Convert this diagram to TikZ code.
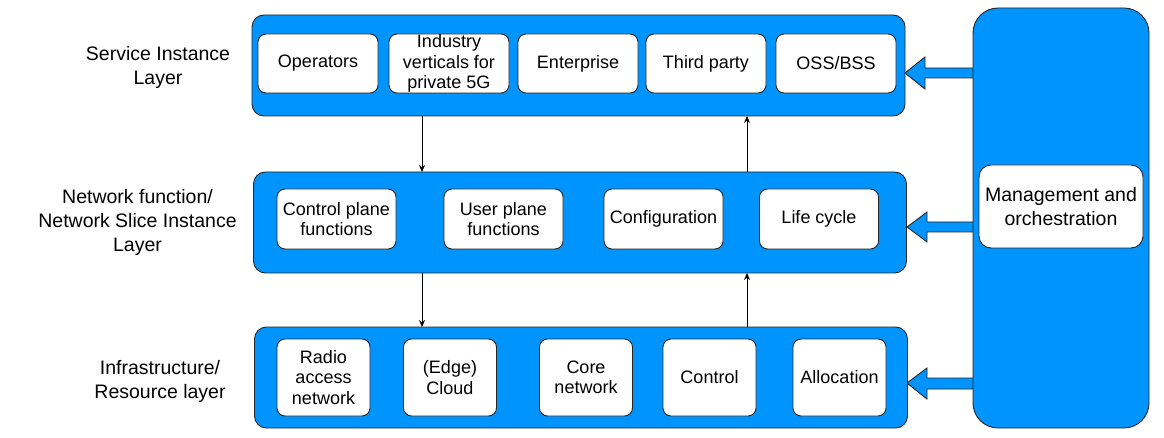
\documentclass[tikz,border=0pt]{standalone}
\usepackage{fontspec}
\setmainfont{Liberation Sans}
\usetikzlibrary{arrows.meta,calc}
\definecolor{lblue}{RGB}{0,148,255}
\tikzset{
  layer/.style={draw=black!85, fill=lblue, rounded corners=12pt, line width=0.9pt, minimum width=653pt, minimum height=101pt, inner sep=0pt, outer sep=0pt},
  item/.style={draw=black!85, fill=white, rounded corners=8pt, line width=0.9pt, inner sep=0pt, outer sep=0pt, align=center, font=\fontsize{18}{20.5}\selectfont},
  lab/.style={align=center, font=\fontsize{19.5}{24}\selectfont},
  thin/.style={draw=black, line width=0.8pt, -{Stealth[length=7pt,width=6pt]}},
  blockarrow/.style={draw=black!85, fill=lblue, line width=0.9pt, line join=miter}
}
\begin{document}
\begin{tikzpicture}[x=1pt,y=-1pt]
\useasboundingbox (0,0) rectangle (1164,438);

% left labels
\node[lab] (t1) at (158,67) {Service Instance\\Layer};
\node[lab] (t2) at (137.5,222.5) {Network function/\\Network Slice Instance\\Layer};
\node[lab] (t3) at (160,381) {Infrastructure/\\Resource layer};

% block arrows (drawn before column so the column border covers the shaft end)
\draw[blockarrow] (905,73) -- (925,57) -- (925,68) -- (975,68) -- (975,78) -- (925,78) -- (925,89) -- cycle;
\draw[blockarrow] (907,227) -- (927,212) -- (927,222) -- (975,222) -- (975,232) -- (927,232) -- (927,242) -- cycle;
\draw[blockarrow] (907,383) -- (927,368) -- (927,378) -- (975,378) -- (975,389) -- (927,389) -- (927,399) -- cycle;

% layers
\node[layer] (L1) at (578.5,65.5) {};
\node[layer] (L2) at (580,222.5) {};
\node[layer] (L3) at (581,377.5) {};

% management column
\node[draw=black!85, fill=lblue, rounded corners=25pt, line width=0.9pt, minimum width=176pt, minimum height=420pt, inner sep=0pt] (M) at (1061,218) {};
\node[item, minimum width=164pt, minimum height=83pt, rounded corners=12pt, font=\fontsize{19.5}{24}\selectfont] (MO) at (1061,206.5) {Management and\\orchestration};

% top layer items
\node[item, minimum width=120pt, minimum height=59pt] (a1) at (318,63.5) {Operators};
\node[item, minimum width=120pt, minimum height=59pt] (a2) at (449,63.5) {Industry\\verticals for\\private 5G};
\node[item, minimum width=120pt, minimum height=59pt] (a3) at (578,63.5) {Enterprise};
\node[item, minimum width=120pt, minimum height=59pt] (a4) at (706,63.5) {Third party};
\node[item, minimum width=120pt, minimum height=59pt] (a5) at (836,63.5) {OSS/BSS};

% middle layer items
\node[item, minimum width=119pt, minimum height=60pt] (b1) at (336.5,219) {Control plane\\functions};
\node[item, minimum width=119pt, minimum height=60pt] (b2) at (503.5,219) {User plane\\functions};
\node[item, minimum width=119pt, minimum height=60pt] (b3) at (663.5,219) {Configuration};
\node[item, minimum width=119pt, minimum height=60pt] (b4) at (819,219) {Life cycle};

% bottom layer items
\node[item, minimum width=93pt, minimum height=77pt] (c1) at (323.5,377.5) {Radio\\access\\network};
\node[item, minimum width=93pt, minimum height=77pt] (c2) at (450,377.5) {(Edge)\\Cloud};
\node[item, minimum width=93pt, minimum height=77pt] (c3) at (586,377.5) {Core\\network};
\node[item, minimum width=93pt, minimum height=77pt] (c4) at (709.5,377.5) {Control};
\node[item, minimum width=93pt, minimum height=77pt] (c5) at (839.5,377.5) {Allocation};

% thin arrows between layers
\coordinate (dx) at (422,0);
\coordinate (ux) at (747,0);
\draw[thin] (L1.south -| dx) -- (L2.north -| dx);
\draw[thin] (L2.north -| ux) -- (L1.south -| ux);
\draw[thin] (L2.south -| dx) -- (L3.north -| dx);
\draw[thin] (L3.north -| ux) -- (L2.south -| ux);
\end{tikzpicture}
\end{document}
